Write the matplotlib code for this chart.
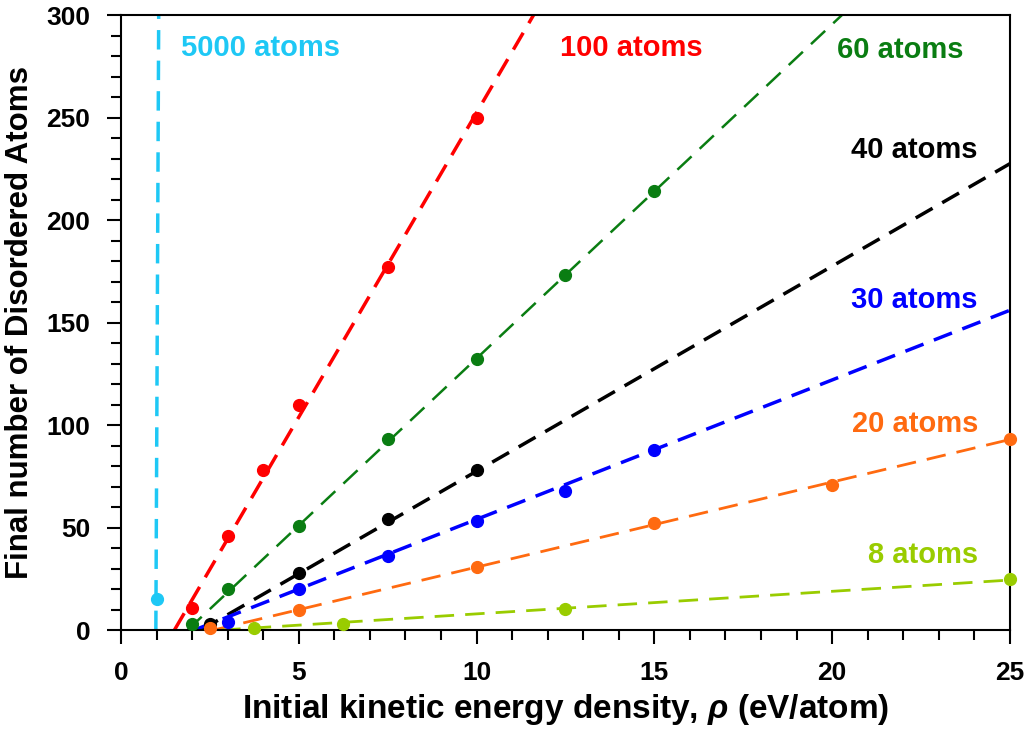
import numpy as np
import matplotlib.pyplot as plt
from matplotlib.ticker import MultipleLocator

plt.rcParams['font.family'] = ['Liberation Sans', 'DejaVu Sans']
plt.rcParams['font.weight'] = 'bold'
plt.rcParams['mathtext.fontset'] = 'custom'
plt.rcParams['mathtext.bfit'] = 'Liberation Sans:bold:italic'
plt.rcParams['lines.scale_dashes'] = False

# simulated points: energy density (eV/atom) vs. disordered atoms
x_100 = [2, 3, 4, 5, 7.5, 10]
y_100 = [11, 46, 78, 110, 177, 250]
x_60 = [2, 3, 5, 7.5, 10, 12.5, 15]
y_60 = [3, 20, 51, 93, 132, 173, 214]
x_40 = [2.5, 5, 7.5, 10]
y_40 = [3, 28, 54, 78]
x_30 = [3, 5, 7.5, 10, 12.5, 15]
y_30 = [4, 20, 36, 53, 68, 88]
x_20 = [2.5, 5, 10, 15, 20, 25]
y_20 = [1, 10, 31, 52, 71, 93]
x_8 = [3.75, 6.25, 12.5, 25]
y_8 = [1, 3, 10.5, 25]
x_5000 = [1]
y_5000 = [15]

# linear fits y = a*x + b
fit_a = {'5000': 3750.0, '100': 29.7, '60': 16.3, '40': 10.0, '30': 6.8, '20': 4.15, '8': 1.1}
fit_b = {'5000': -3675.0, '100': -44.6, '60': -30.5, '40': -22.5, '30': -14.0, '20': -10.8, '8': -3.1}

series = [
    ('5000', x_5000, y_5000, '#1ec8f5', 2.5),
    ('100', x_100, y_100, '#ff0000', 2.5),
    ('60', x_60, y_60, '#0a7d12', 1.8),
    ('40', x_40, y_40, '#000000', 2.5),
    ('30', x_30, y_30, '#0000ff', 2.5),
    ('20', x_20, y_20, '#ff6a10', 2.0),
    ('8', x_8, y_8, '#99cc00', 2.0),
]

labels = {
    '5000': (1.7, 284, 'left'),
    '100': (12.35, 284, 'left'),
    '60': (23.7, 283, 'right'),
    '40': (24.1, 234, 'right'),
    '30': (24.1, 161, 'right'),
    '20': (24.1, 100.5, 'right'),
    '8': (24.1, 36.6, 'right'),
}

fig = plt.figure(figsize=(10.29, 7.43), dpi=100)
ax = fig.add_axes([0.1176, 0.152, 0.8639, 0.8278])

for name, xs, ys, col, lw in series:
    a, b = fit_a[name], fit_b[name]
    x0 = max(-b / a, 0)
    x1 = min((300 - b) / a, 25)
    xl = np.linspace(x0, x1, 50)
    ax.plot(xl, a * xl + b, color=col, lw=lw, dashes=(14, 8))
    ax.plot(xs, ys, 'o', color=col, ms=8.5, clip_on=False, zorder=3)
    tx, ty, ha = labels[name]
    ax.text(tx, ty, f'{name} atoms', color=col, fontsize=21, fontweight='bold',
            ha=ha, va='center')

ax.set_xlim(0, 25)
ax.set_ylim(0, 300)
ax.xaxis.set_major_locator(MultipleLocator(5))
ax.xaxis.set_minor_locator(MultipleLocator(1))
ax.yaxis.set_major_locator(MultipleLocator(50))
ax.yaxis.set_minor_locator(MultipleLocator(10))
ax.tick_params(which='major', length=10, width=1.5, labelsize=19, pad=12)
ax.tick_params(which='minor', length=7, width=1.5)
for sp in ax.spines.values():
    sp.set_linewidth(1.5)

ax.set_xlabel(r'Initial kinetic energy density, $\mathbfit{\rho}$ (eV/atom)',
              fontsize=24, fontweight='bold', labelpad=5)
ax.set_ylabel('Final number of Disordered Atoms', fontsize=22.5, fontweight='bold',
              labelpad=8)

fig.savefig('out.png', dpi=100)
